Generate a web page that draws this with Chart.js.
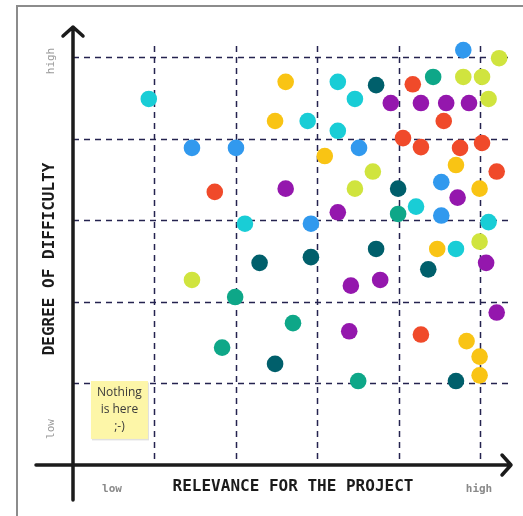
<!DOCTYPE html>
<html>
<head>
<meta charset="utf-8">
<script src="https://cdn.jsdelivr.net/npm/chart.js@4/dist/chart.umd.min.js"></script>
<style>
  body { margin: 0; background: #fff; }
  #wrap { width: 523px; height: 516px; }
</style>
</head>
<body>
<div id="wrap"><canvas id="myChart" width="523" height="516"></canvas></div>
<script>
// veriler: [relevance, difficulty]
const cyanPts   = [[3.25,4.70],[0.93,4.49],[3.46,4.49],[2.88,4.22],[3.25,4.10],[4.21,3.17],[5.10,2.98],[2.11,2.96],[4.70,2.65]];
const bluePts   = [[4.79,5.09],[1.46,3.89],[2.00,3.89],[3.51,3.89],[4.52,3.47],[4.52,3.06],[2.92,2.96]];
const tealPts   = [[3.72,4.66],[3.99,3.39],[3.72,2.65],[2.29,2.48],[2.92,2.55],[4.36,2.40],[2.48,1.24],[4.70,1.03]];
const greenPts  = [[4.42,4.76],[3.99,3.08],[1.99,2.06],[2.70,1.74],[1.83,1.44],[3.50,1.03]];
const redPts    = [[4.17,4.67],[4.55,4.22],[4.05,4.01],[4.27,3.90],[4.75,3.89],[5.02,3.95],[5.20,3.60],[1.74,3.35],[4.27,1.60]];
const yellowPts = [[2.61,4.70],[2.48,4.22],[3.09,3.79],[4.70,3.68],[4.99,3.39],[4.47,2.65],[4.83,1.52],[4.99,1.33],[4.99,1.10]];
const limePts   = [[5.23,4.99],[4.79,4.76],[5.02,4.76],[5.10,4.49],[3.68,3.60],[3.46,3.39],[4.99,2.74],[1.46,2.27]];
const purplePts = [[3.90,4.44],[4.27,4.44],[4.58,4.44],[4.86,4.44],[2.61,3.39],[4.72,3.28],[3.25,3.10],[5.07,2.48],[3.41,2.20],[3.77,2.27],[5.20,1.87],[3.39,1.64]];

const gridTicks = [1, 2, 3, 4, 5];
const xLabels = ['low', 'high'];
const yLabels = ['low', 'high'];
const xTitle = 'RELEVANCE FOR THE PROJECT';
const yTitle = 'DEGREE OF DIFFICULTY';
const noteLines = ['Nothing', 'is here', ';-)'];

function toXY(arr) {
  return arr.map(p => ({ x: p[0], y: p[1] }));
}

const series = [
  { pts: cyanPts,   color: '#19cdd6' },
  { pts: bluePts,   color: '#3199ee' },
  { pts: tealPts,   color: '#005f6b' },
  { pts: greenPts,  color: '#0ea788' },
  { pts: redPts,    color: '#f04a2a' },
  { pts: yellowPts, color: '#f9c414' },
  { pts: limePts,   color: '#d0e43e' },
  { pts: purplePts, color: '#9417ad' }
];

// arka plan: çerçeve, ızgara, eksenler, yazılar
const boardPlugin = {
  id: 'board',
  beforeDatasetsDraw(chart) {
    const c = chart.ctx;
    const xs = chart.scales.x, ys = chart.scales.y;
    const area = chart.chartArea;
    const x0 = xs.getPixelForValue(0), y0 = ys.getPixelForValue(0);

    c.save();
    // çerçeve
    c.strokeStyle = '#8c8c8c';
    c.lineWidth = 2;
    c.beginPath();
    c.moveTo(17, 520);
    c.lineTo(17, 6);
    c.lineTo(530, 6);
    c.stroke();

    // ızgara
    c.strokeStyle = '#24234f';
    c.lineWidth = 1.5;
    c.setLineDash([6, 5]);
    gridTicks.forEach(t => {
      const px = Math.round(xs.getPixelForValue(t)) + 0.5;
      c.beginPath();
      c.moveTo(px, area.top);
      c.lineTo(px, y0);
      c.stroke();
      const py = Math.round(ys.getPixelForValue(t)) + 0.5;
      c.beginPath();
      c.moveTo(x0, py);
      c.lineTo(area.right, py);
      c.stroke();
    });
    c.setLineDash([]);

    // eksenler
    c.strokeStyle = '#1b1b1b';
    c.lineWidth = 3.5;
    c.lineCap = 'round';
    c.lineJoin = 'round';
    c.beginPath();
    c.moveTo(x0, 500);
    c.lineTo(x0, 27);
    c.moveTo(x0 - 10, 36);
    c.lineTo(x0, 27);
    c.lineTo(x0 + 10, 36);
    c.moveTo(36, y0);
    c.lineTo(511, y0);
    c.moveTo(502, y0 - 10);
    c.lineTo(511, y0);
    c.lineTo(502, y0 + 10);
    c.stroke();

    // not kağıdı
    const nx = xs.getPixelForValue(0.22), nw = xs.getPixelForValue(0.92) - nx;
    const ny = ys.getPixelForValue(1.03), nh = ys.getPixelForValue(0.32) - ny;
    c.fillStyle = 'rgba(0,0,0,0.12)';
    c.fillRect(nx + 1, ny + 1.5, nw, nh);
    c.fillStyle = '#fdf6a8';
    c.fillRect(nx, ny, nw, nh);
    c.fillStyle = '#3a3a3a';
    c.font = '12px "Open Sans", "Noto Sans", sans-serif';
    c.textAlign = 'center';
    c.textBaseline = 'middle';
    noteLines.forEach((s, i) => c.fillText(s, nx + nw / 2, ny + 12 + i * 17));

    // eksen başlıkları
    c.fillStyle = '#1b1b1b';
    c.font = 'bold 16px "DejaVu Sans Mono", monospace';
    c.fillText(xTitle, 293, 487);
    c.save();
    c.translate(50, 259);
    c.rotate(-Math.PI / 2);
    c.fillText(yTitle, 0, 0);
    c.restore();

    // low / high
    c.fillStyle = '#8a8a8a';
    c.font = 'bold 11px "DejaVu Sans Mono", monospace';
    c.fillText(xLabels[0], 112, 489);
    c.fillText(xLabels[1], 479, 489);
    c.fillStyle = '#9a9a9a';
    c.font = '11px "DejaVu Sans Mono", monospace';
    [[yLabels[0], 429], [yLabels[1], 61]].forEach(([s, y]) => {
      c.save();
      c.translate(51, y);
      c.rotate(-Math.PI / 2);
      c.fillText(s, 0, 0);
      c.restore();
    });
    c.restore();
  }
};

const ctx = document.getElementById('myChart').getContext('2d');
const chart = new Chart(ctx, {
  type: 'scatter',
  data: {
    datasets: series.map(s => ({
      data: toXY(s.pts),
      backgroundColor: s.color,
      borderWidth: 0,
      pointRadius: 8.3,
      pointHoverRadius: 8.3,
      clip: false
    }))
  },
  options: {
    responsive: false,
    animation: false,
    layout: { padding: { left: 73, right: 10, top: 46, bottom: 51 } },
    scales: {
      x: { type: 'linear', min: 0, max: 5.4, display: false },
      y: { type: 'linear', min: 0, max: 5.14, display: false }
    },
    plugins: {
      legend: { display: false },
      tooltip: { enabled: false }
    }
  },
  plugins: [boardPlugin, {
    id: 'white',
    beforeDraw(chart) {
      chart.ctx.save();
      chart.ctx.fillStyle = '#fff';
      chart.ctx.fillRect(0, 0, chart.width, chart.height);
      chart.ctx.restore();
    }
  }]
});
</script>
</body>
</html>
